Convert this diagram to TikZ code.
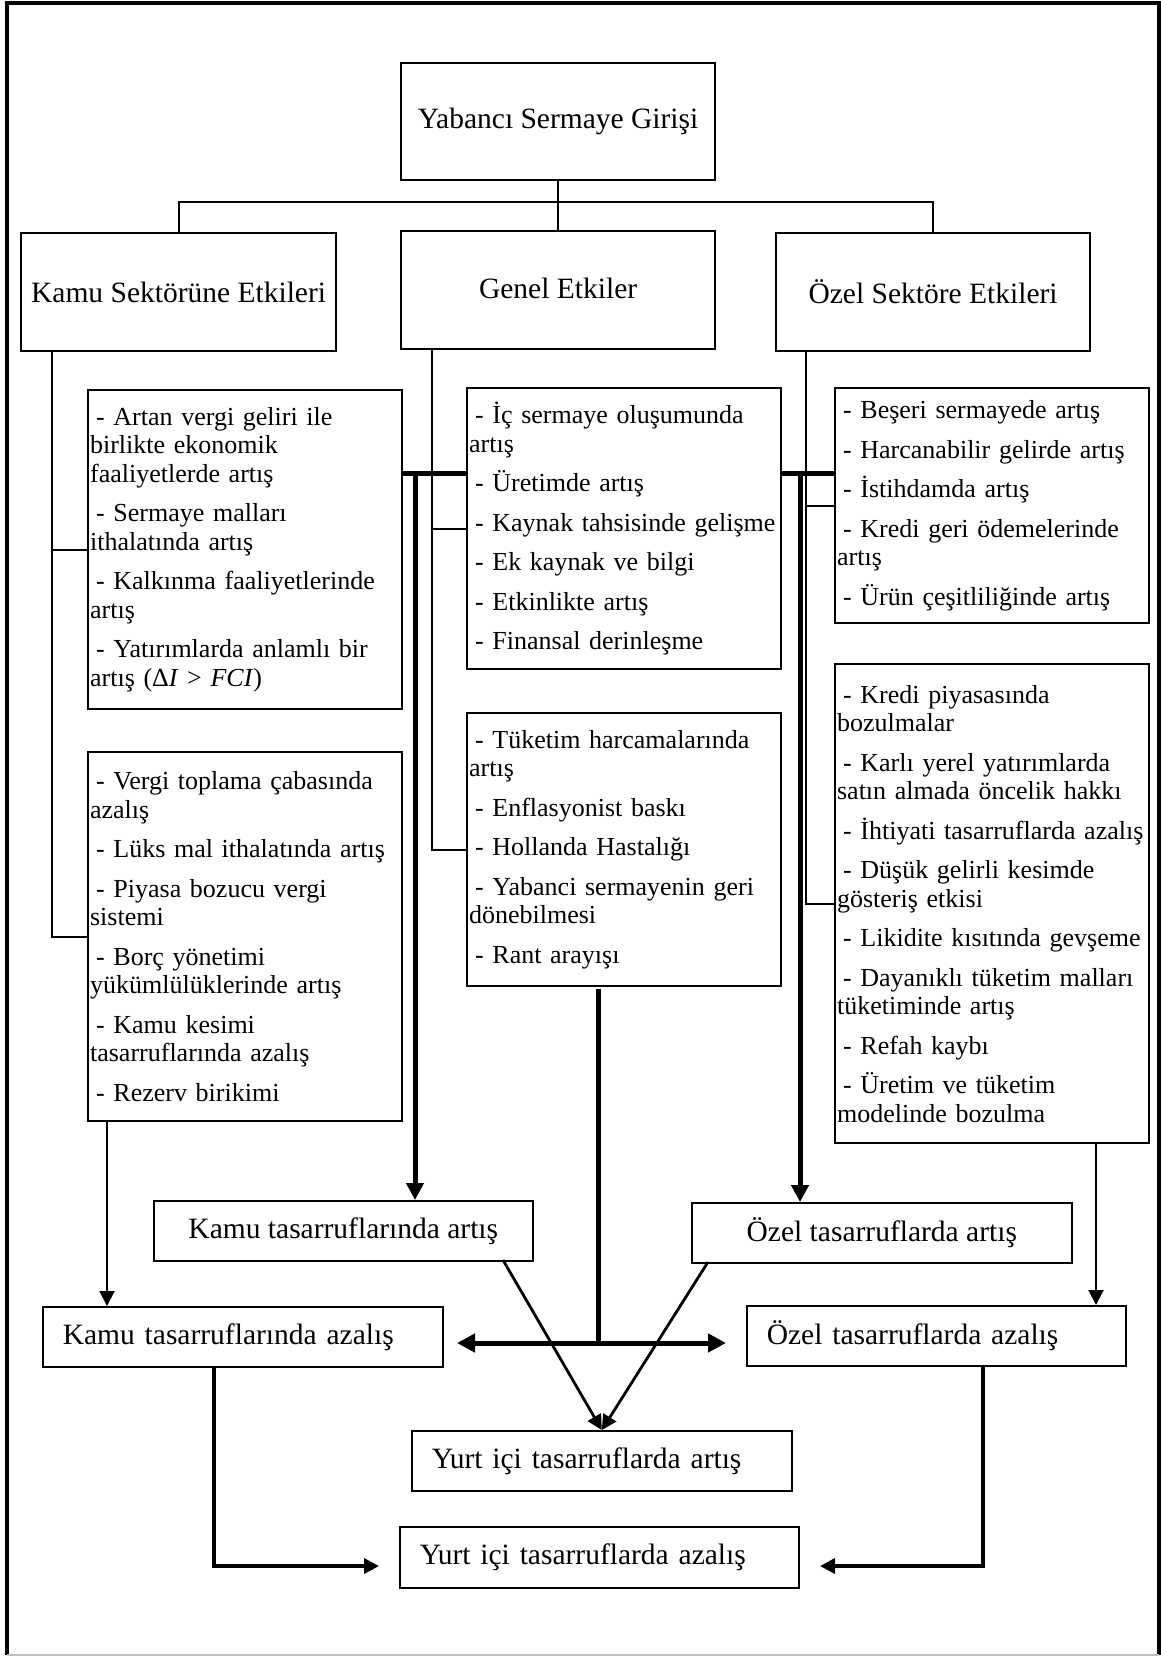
\documentclass[tikz,border=0pt]{standalone}
\usepackage{fontspec}
\setmainfont{Liberation Serif}
\usetikzlibrary{arrows.meta}
\newcommand\hfont{\fontsize{29.5}{33}\selectfont}
\newcommand\lfont{\fontsize{26}{28.5}\selectfont}
\newcommand\itm{\hspace*{6pt}- }
\begin{document}
\begin{tikzpicture}[x=1pt,y=-1pt,
  box/.style={draw, line width=2.2pt, inner sep=0pt, anchor=north west},
  head/.style={box, font=\hfont, align=center},
  listbox/.style={box, align=left, inner xsep=2pt, font=\lfont},
  lbl/.style={draw, line width=1.6pt, inner sep=0pt, anchor=north west, align=left, font=\hfont},
  thinln/.style={line width=2pt},
  diag/.style={line width=2.8pt},
  thickln/.style={line width=5pt},
  arr/.style={-{Triangle[length=15pt,width=15pt]}},
  barr/.style={-{Triangle[length=17pt,width=17pt]}},
  darr/.style={{Triangle[length=18pt,width=18pt]}-{Triangle[length=18pt,width=18pt]}}
]
\useasboundingbox (0,0) rectangle (1161,1657);
% frame
\draw[line width=4pt] (7,1655) -- (7,3) -- (1159,3) -- (1159,1655);
\draw[gray!50, line width=1.5pt] (7,1655) -- (1159,1655);

% header boxes
\node[head, minimum width=314pt, minimum height=117pt] (Y) at (400,62) {Yabancı Sermaye Girişi};
\node[head, minimum width=315pt, minimum height=118pt] (KS) at (20,232) {Kamu Sektörüne Etkileri};
\node[head, minimum width=314pt, minimum height=118pt] (GE) at (400,230) {\raisebox{4pt}{Genel Etkiler}};
\node[head, minimum width=314pt, minimum height=118pt] (OS) at (775,232) {Özel Sektöre Etkileri};

% list boxes
\node[listbox, minimum width=314pt, minimum height=319pt, text width=310pt] (K1) at (87,389) {%
\itm Artan vergi geliri ile\\ birlikte ekonomik\\ faaliyetlerde artış\\[11pt]
\itm Sermaye malları\\ ithalatında artış\\[11pt]
\itm Kalkınma faaliyetlerinde\\ artış\\[11pt]
\itm Yatırımlarda anlamlı bir\\ artış (Δ\textit{I} > \textit{FCI})};

\node[listbox, minimum width=314pt, minimum height=369pt, text width=310pt] (K2) at (87,751) {%
\itm Vergi toplama çabasında\\ azalış\\[11pt]
\itm Lüks mal ithalatında artış\\[11pt]
\itm Piyasa bozucu vergi\\ sistemi\\[11pt]
\itm Borç yönetimi\\ yükümlülüklerinde artış\\[11pt]
\itm Kamu kesimi\\ tasarruflarında azalış\\[11pt]
\itm Rezerv birikimi};

\node[listbox, minimum width=314pt, minimum height=281pt, text width=310pt] (G1) at (466,387) {%
\itm İç sermaye oluşumunda\\ artış\\[11pt]
\itm Üretimde artış\\[11pt]
\itm Kaynak tahsisinde gelişme\\[11pt]
\itm Ek kaynak ve bilgi\\[11pt]
\itm Etkinlikte artış\\[11pt]
\itm Finansal derinleşme};

\node[listbox, minimum width=314pt, minimum height=273pt, text width=310pt] (G2) at (466,712) {%
\itm Tüketim harcamalarında\\ artış\\[11pt]
\itm Enflasyonist baskı\\[11pt]
\itm Hollanda Hastalığı\\[11pt]
\itm Yabanci sermayenin geri\\ dönebilmesi\\[11pt]
\itm Rant arayışı};

\node[listbox, minimum width=314pt, minimum height=235pt, text width=310pt] (O1) at (834,387) {%
\itm Beşeri sermayede artış\\[11pt]
\itm Harcanabilir gelirde artış\\[11pt]
\itm İstihdamda artış\\[11pt]
\itm Kredi geri ödemelerinde\\ artış\\[11pt]
\itm Ürün çeşitliliğinde artış};

\node[listbox, minimum width=314pt, minimum height=479pt, text width=310pt] (O2) at (834,663) {%
\itm Kredi piyasasında\\ bozulmalar\\[11pt]
\itm Karlı yerel yatırımlarda\\ satın almada öncelik hakkı\\[11pt]
\itm İhtiyati tasarruflarda azalış\\[11pt]
\itm Düşük gelirli kesimde\\ gösteriş etkisi\\[11pt]
\itm Likidite kısıtında gevşeme\\[11pt]
\itm Dayanıklı tüketim malları\\ tüketiminde artış\\[11pt]
\itm Refah kaybı\\[11pt]
\itm Üretim ve tüketim\\ modelinde bozulma};

% bottom boxes
\node[lbl, align=center, minimum width=379pt, minimum height=60pt] (KA) at (153,1200) {Kamu tasarruflarında artış};
\node[lbl, align=center, minimum width=380pt, minimum height=60pt] (OA) at (691,1202) {Özel tasarruflarda artış};
\node[lbl, minimum width=400pt, minimum height=60pt, text width=360pt] (KZ) at (42,1306) {Kamu tasarruflarında azalış};
\node[lbl, minimum width=379pt, minimum height=60pt, text width=339pt] (OZ) at (746,1305) {Özel tasarruflarda azalış};
\node[lbl, minimum width=380pt, minimum height=60pt, text width=340pt] (YA) at (411,1430) {Yurt içi tasarruflarda artış};
\node[lbl, minimum width=399pt, minimum height=61pt, text width=359pt] (YZ) at (399,1526) {Yurt içi tasarruflarda azalış};

% tree at top
\path (Y.south) ++(0,21) coordinate (bus);
\draw[thinln] (Y.south) -- (bus);
\draw[thinln] (KS.north) |- (bus) -| (OS.north);
\draw[thinln] (bus) -- (bus |- GE.north);

% trunks
\coordinate (kt) at (52,350);
\draw[thinln] (kt) |- (K2.west);
\draw[thinln] (kt |- K1.west) -- (K1.west);
\coordinate (gt) at (432,348);
\draw[thinln] (gt) |- (G2.west);
\draw[thinln] (gt |- G1.west) -- (G1.west);
\coordinate (ot) at (806,350);
\draw[thinln] (ot) |- (O2.west);
\draw[thinln] (ot |- O1.west) -- (O1.west);

% thick bars
\coordinate (barL) at (415,473);
\coordinate (barR) at (800,473);
\draw[thickln] (K1.east |- barL) -- (G1.west |- barL);
\draw[thickln] (G1.east |- barR) -- (O1.west |- barR);
\draw[thickln, barr] (barL) -- (barL |- KA.north);
\draw[thickln, barr] (barR) -- (barR |- OA.north);

% genel down + double arrow
\coordinate (gd) at (598,989);
\coordinate (gx) at (598,1343);
\coordinate (dL) at (457,1343);
\coordinate (dR) at (726,1343);
\draw[thickln] (gd) -- (gx);
\draw[thickln, darr] (dL) -- (dR);

% thin arrows down
\coordinate (k2d) at (107,1120);
\coordinate (o2d) at (1096,1142);
\draw[thinln, arr] (k2d) -- (k2d |- KZ.north);
\draw[thinln, arr] (o2d) -- (o2d |- OZ.north);

% diagonals
\coordinate (kad) at (503,1260);
\coordinate (oad) at (708,1262);
\draw[diag, arr] (kad) -- (YA.north);
\draw[diag, arr] (oad) -- (YA.north);

% elbows
\coordinate (lz) at (214,1366);
\coordinate (lt) at (379,1566);
\coordinate (rz) at (983,1365);
\coordinate (rt) at (820,1566);
\draw[line width=3.5pt, arr] (lz) |- (lt);
\draw[line width=3.5pt, arr] (rz) |- (rt);
\end{tikzpicture}
\end{document}
